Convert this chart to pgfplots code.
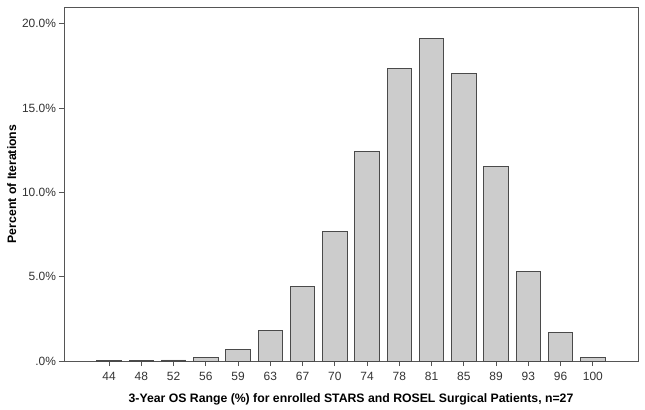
\documentclass[border=0pt]{standalone}
\usepackage{pgfplots}
\pgfplotsset{compat=1.18}
\usepackage{fontspec}
\setmainfont{Liberation Sans}
\definecolor{barfill}{HTML}{CCCCCC}
\definecolor{baredge}{HTML}{4A4A4A}
\definecolor{boxcol}{HTML}{555555}
\definecolor{txt}{HTML}{333333}
\begin{document}
\begin{tikzpicture}
\begin{axis}[
  name=ax,
  scale only axis,
  width=574bp, height=354bp,
  xmin=-1.4, xmax=16.4,
  ymin=0, ymax=21.0,
  ybar, bar width=24.5bp,
  axis line style={draw=boxcol, line width=0.9bp},
  xtick={0,1,2,3,4,5,6,7,8,9,10,11,12,13,14,15},
  xticklabels={44,48,52,56,59,63,67,70,74,78,81,85,89,93,96,100},
  ytick={0,5,10,15,20},
  yticklabels={.0\%,5.0\%,10.0\%,15.0\%,20.0\%},
  tick align=outside,
  major tick length=5bp,
  tick style={draw=boxcol, line width=0.8bp},
  xtick pos=bottom, ytick pos=left,
  tick label style={font=\fontsize{12}{14}\selectfont, text=txt},
  xticklabel style={yshift=-3bp},
  yticklabel style={xshift=0.5bp},
  /pgf/number format/assume math mode=true,
  xlabel={3-Year OS Range (\%) for enrolled STARS and ROSEL Surgical Patients, n=27},
  ylabel={Percent of Iterations},
  label style={font=\bfseries\fontsize{12.3}{14}\selectfont, text=black},
  xlabel style={yshift=-6bp},
  ylabel style={yshift=-1bp},
]
\addplot[fill=barfill, draw=baredge, line width=0.9bp] coordinates {
(0,0.02) (1,0.03) (2,0.06) (3,0.22) (4,0.69) (5,1.82) (6,4.41) (7,7.66)
(8,12.45) (9,17.36) (10,19.12) (11,17.08) (12,11.54) (13,5.33) (14,1.68) (15,0.22)
};
\end{axis}
\pgfresetboundingbox
\path[use as bounding box] (ax.south west) ++(-64bp,-49bp) rectangle ([shift={(7bp,7bp)}]ax.north east);
\end{tikzpicture}
\end{document}
